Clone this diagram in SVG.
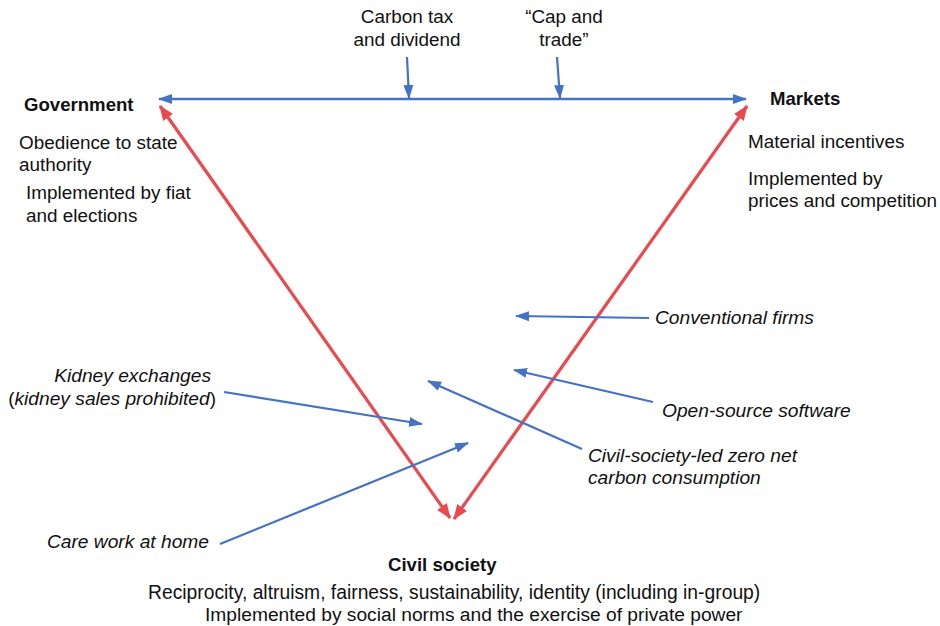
<svg xmlns="http://www.w3.org/2000/svg" width="940" height="626" viewBox="0 0 940 626">
<style>
text{font-family:"Liberation Sans",Arial,Helvetica,sans-serif;font-size:18.9px;fill:#111}
.b{font-weight:bold;font-size:18.6px}
.i{font-style:italic;font-size:19.2px}
.blue{stroke:#4472C4;stroke-width:2.2;fill:none}
.red{stroke:#E84A4F;stroke-width:3.2;fill:none}
</style>
<defs>
<marker id="ab" markerUnits="userSpaceOnUse" markerWidth="14" markerHeight="12" refX="13" refY="5" orient="auto-start-reverse" viewBox="0 0 14 10">
<path d="M0,0 L14,5 L0,10 z" fill="#4472C4"/>
</marker>
<marker id="ar" markerUnits="userSpaceOnUse" markerWidth="15" markerHeight="13" refX="14" refY="6" orient="auto-start-reverse" viewBox="0 0 15 12">
<path d="M0,0 L15,6 L0,12 z" fill="#E84A4F"/>
</marker>
</defs>
<rect width="940" height="626" fill="#fff"/>
<g id="connectors">
<line class="blue" x1="159" y1="99" x2="746" y2="99" marker-start="url(#ab)" marker-end="url(#ab)" style="stroke-width:2.6"/>
<line class="blue" x1="407" y1="57" x2="409" y2="98" marker-end="url(#ab)"/>
<line class="blue" x1="557" y1="57" x2="560" y2="98" marker-end="url(#ab)"/>
<line class="red" x1="160" y1="106" x2="450" y2="518" marker-start="url(#ar)" marker-end="url(#ar)"/>
<line class="red" x1="747" y1="106" x2="454" y2="519" marker-start="url(#ar)" marker-end="url(#ar)"/>
<line class="blue" x1="649" y1="318" x2="516" y2="316" marker-end="url(#ab)"/>
<line class="blue" x1="653" y1="402" x2="514" y2="370" marker-end="url(#ab)"/>
<line class="blue" x1="582" y1="449" x2="428" y2="381" marker-end="url(#ab)"/>
<line class="blue" x1="224" y1="392" x2="422" y2="424" marker-end="url(#ab)"/>
<line class="blue" x1="220" y1="544" x2="468" y2="443" marker-end="url(#ab)"/>
</g>
<g id="government">
<text class="b" x="24" y="111">Government</text>
<text x="19" y="149">Obedience to state</text>
<text x="19" y="171">authority</text>
<text x="26" y="199">Implemented by fiat</text>
<text x="26" y="222">and elections</text>
</g>
<g id="markets">
<text class="b" x="770" y="105">Markets</text>
<text x="748" y="148">Material incentives</text>
<text x="748" y="185">Implemented by</text>
<text x="748" y="207">prices and competition</text>
</g>
<g id="civil-society">
<text class="b" x="388" y="571">Civil society</text>
<text x="148" y="599" style="font-size:19.3px">Reciprocity, altruism, fairness, sustainability, identity (including in-group)</text>
<text x="205" y="621" style="font-size:19.2px">Implemented by social norms and the exercise of private power</text>
</g>
<g id="carbon-tax">
<text x="407" y="23" text-anchor="middle">Carbon tax</text>
<text x="407" y="46" text-anchor="middle">and dividend</text>
</g>
<g id="cap-and-trade">
<text x="564" y="23" text-anchor="middle">“Cap and</text>
<text x="564" y="46" text-anchor="middle">trade”</text>
</g>
<g id="kidney">
<text class="i" x="211" y="382" text-anchor="end">Kidney exchanges</text>
<text x="216" y="405" text-anchor="end">(<tspan class="i">kidney sales prohibited</tspan>)</text>
</g>
<g id="care-work">
<text class="i" x="209" y="548" text-anchor="end">Care work at home</text>
</g>
<g id="conventional-firms">
<text class="i" x="655" y="324">Conventional firms</text>
</g>
<g id="open-source">
<text class="i" x="662" y="417">Open-source software</text>
</g>
<g id="zero-carbon">
<text class="i" x="588" y="462">Civil-society-led zero net</text>
<text class="i" x="588" y="484">carbon consumption</text>
</g>
</svg>
